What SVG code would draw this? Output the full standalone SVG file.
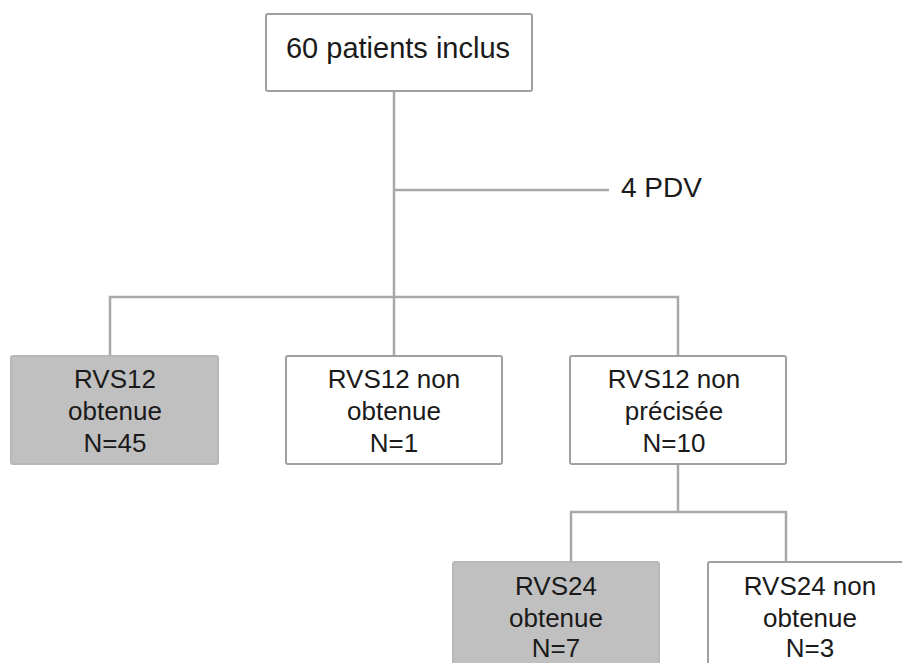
<svg xmlns="http://www.w3.org/2000/svg" width="902" height="663" viewBox="0 0 902 663">
<style>
.box{fill:#ffffff;stroke:#a0a0a0;stroke-width:2}
.grey{fill:#c0c0c0;stroke:#b8b8b8;stroke-width:2}
.conn{fill:none;stroke:#a8a8a8;stroke-width:2.5}
text{font-family:"Liberation Sans",Arial,sans-serif;font-size:26px;fill:#1a1a1a;text-anchor:middle}
</style>
<rect width="902" height="663" fill="#ffffff"/>
<g id="connectors">
<path class="conn" d="M394 91 V297"/>
<path class="conn" d="M394 190 H609"/>
<path class="conn" d="M110 356 V297 H678 V356"/>
<path class="conn" d="M394 297 V356"/>
<path class="conn" d="M678 464 V512"/>
<path class="conn" d="M571 562 V512 H786 V562"/>
</g>
<g id="n_top">
<rect class="box" x="266" y="14" width="266" height="77" rx="2"/>
<text x="398" y="58" style="font-size:29px">60 patients inclus</text>
</g>
<g id="n_pdv">
<text x="621" y="197" style="text-anchor:start;font-size:28px">4 PDV</text>
</g>
<g id="n_rvs12_ok">
<rect class="grey" x="11" y="356" width="207" height="108" rx="2"/>
<text x="115" y="388">RVS12</text>
<text x="115" y="420">obtenue</text>
<text x="115" y="452">N=45</text>
</g>
<g id="n_rvs12_non">
<rect class="box" x="286" y="356" width="216" height="108" rx="2"/>
<text x="394" y="388">RVS12 non</text>
<text x="394" y="420">obtenue</text>
<text x="394" y="452">N=1</text>
</g>
<g id="n_rvs12_np">
<rect class="box" x="570" y="356" width="216" height="108" rx="2"/>
<text x="674" y="388">RVS12 non</text>
<text x="674" y="420">précisée</text>
<text x="674" y="452">N=10</text>
</g>
<g id="n_rvs24_ok">
<rect class="grey" x="453" y="562" width="206" height="110" rx="2"/>
<text x="556" y="595">RVS24</text>
<text x="556" y="627">obtenue</text>
<text x="556" y="657">N=7</text>
</g>
<g id="n_rvs24_non">
<rect class="box" x="708" y="562" width="210" height="110" rx="2"/>
<text x="810" y="595">RVS24 non</text>
<text x="810" y="627">obtenue</text>
<text x="810" y="657">N=3</text>
</g>
</svg>
